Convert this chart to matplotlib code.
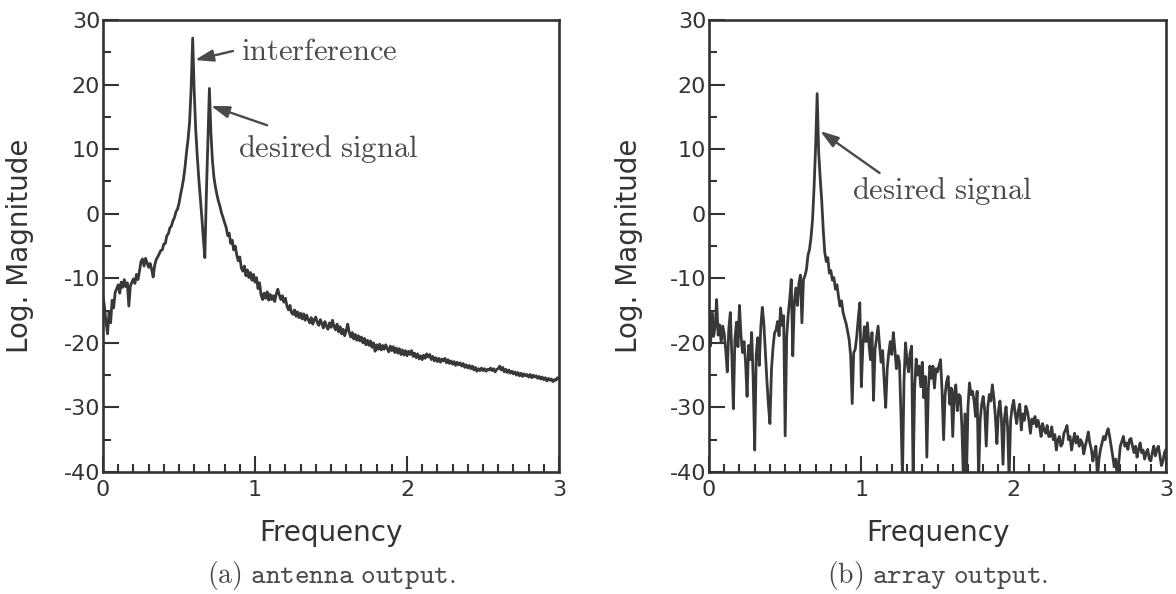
"""
안테나 출력 / 배열 출력 스펙트럼 비교 그림
"""
import matplotlib
matplotlib.use("Agg")
import matplotlib.pyplot as plt
from matplotlib.ticker import MultipleLocator
import numpy as np

plt.rcParams["font.family"] = ["DejaVu Sans"]
plt.rcParams["mathtext.fontset"] = "cm"
plt.rcParams["axes.unicode_minus"] = False

# ─────────── 데이터 ───────────

freq = np.linspace(0.0, 3.0, 301)

# (a) antenna output, dB
antenna_db = [
    -12.7, -14.5, -16.8, -18.6, -15.2, -16.9, -13.4, -14.6, -12.2, -11.6,
    -11.0, -12.3, -10.6, -11.4, -10.2, -11.3, -10.7, -14.3, -11.2, -10.6,
    -10.1, -10.8, -9.4, -10.2, -8.9, -7.4, -7.0, -8.1, -6.9, -7.6,
    -8.3, -7.7, -8.6, -9.8, -8.0, -7.1, -6.7, -6.2, -5.7, -5.6,
    -4.7, -4.6, -3.4, -3.1, -2.2, -1.9, -1.1, -0.6, 0.3, 0.7,
    1.6, 2.9, 4.1, 5.4, 7.3, 9.6, 11.6, 14.3, 19.6, 27.2,
    19.0, 13.0, 9.0, 5.5, 2.5, -0.5, -3.8, -6.8, 3.0, 11.0,
    19.4, 12.5, 8.2, 5.6, 4.1, 2.9, 1.9, 1.1, 0.1, -0.6,
    -1.4, -2.1, -3.4, -3.0, -4.6, -4.1, -5.6, -5.0, -6.4, -7.3,
    -6.7, -8.4, -8.9, -8.1, -9.6, -8.7, -9.9, -9.1, -10.3, -9.4,
    -10.6, -9.9, -11.6, -10.7, -12.6, -13.3, -12.3, -13.1, -12.1, -13.4,
    -12.5, -13.3, -12.7, -13.6, -12.4, -11.7, -12.6, -13.3, -12.7, -13.7,
    -13.1, -14.3, -14.9, -14.2, -15.3, -15.6, -14.9, -15.9, -15.2, -16.1,
    -15.4, -16.3, -15.5, -16.5, -15.7, -16.4, -16.9, -16.1, -17.1, -16.4,
    -16.0, -16.9, -17.3, -16.4, -17.0, -17.7, -16.7, -17.4, -17.9, -16.9,
    -17.6, -16.5, -17.5, -18.0, -17.1, -18.3, -17.5, -18.6, -17.9, -18.9,
    -18.1, -17.1, -18.4, -19.1, -18.4, -19.4, -18.7, -19.6, -18.9, -19.7,
    -19.1, -20.0, -19.3, -20.3, -19.6, -20.4, -19.7, -20.7, -20.0, -21.3,
    -20.3, -21.0, -20.2, -21.1, -20.4, -21.0, -20.3, -20.9, -21.4, -20.5,
    -21.2, -20.6, -21.5, -20.8, -21.6, -20.9, -21.8, -21.1, -21.9, -21.2,
    -22.0, -21.3, -21.8, -21.2, -22.1, -21.6, -22.3, -21.7, -22.5, -22.0,
    -22.6, -21.9, -22.4, -21.7, -22.2, -21.8, -22.6, -22.1, -22.8, -22.3,
    -22.9, -22.4, -23.0, -22.5, -22.8, -22.4, -23.1, -22.6, -23.2, -22.8,
    -23.3, -22.9, -23.5, -23.0, -23.4, -23.1, -23.6, -23.2, -23.8, -23.4,
    -23.9, -23.5, -24.0, -23.6, -24.2, -23.8, -24.4, -24.0, -24.3, -23.9,
    -24.3, -24.0, -24.4, -24.1, -24.2, -23.9, -24.3, -24.0, -24.5, -24.1,
    -24.0, -23.6, -24.2, -23.8, -24.5, -24.1, -24.6, -24.2, -24.7, -24.4,
    -24.8, -24.5, -25.0, -24.6, -25.1, -24.7, -25.2, -24.8, -25.1, -24.9,
    -25.3, -24.9, -25.4, -25.0, -25.3, -25.1, -25.5, -25.2, -25.6, -25.3,
    -25.7, -25.4, -25.9, -25.5, -25.8, -25.6, -26.0, -25.7, -25.8, -25.4,
    -25.5,
]

# (b) array output, dB
array_db = [
    -16.0, -20.5, -15.3, -19.0, -17.5, -13.3, -18.8, -17.2, -20.0, -17.4,
    -18.6, -21.2, -24.5, -17.8, -15.3, -22.0, -30.2, -19.5, -16.8, -20.6,
    -14.2, -18.9, -21.5, -19.8, -23.0, -28.3, -20.4, -22.6, -18.4, -25.5,
    -36.6, -21.8, -19.2, -23.5, -17.6, -14.5, -17.0, -21.4, -25.8, -29.6,
    -32.5, -24.2, -20.8, -18.5, -18.0, -16.7, -18.9, -14.6, -17.3, -15.8,
    -34.4, -19.0, -15.6, -13.2, -10.2, -22.0, -13.8, -11.5, -14.2, -10.8,
    -9.5, -16.9, -10.2, -9.6, -8.6, -6.4, -5.5, -3.6, -0.8, 4.2,
    10.5, 18.6, 9.5, 5.5, 2.0, -2.5, -6.0, -7.4, -6.8, -9.2,
    -8.8, -10.3, -9.9, -11.7, -11.0, -12.8, -14.3, -13.5, -15.3, -16.2,
    -17.0, -18.2, -19.5, -22.0, -29.4, -21.5, -21.0, -19.0, -16.2, -13.8,
    -26.8, -20.5, -17.5, -19.8, -16.9, -20.2, -22.6, -18.4, -28.9, -21.0,
    -19.2, -17.4, -20.5, -23.0, -21.2, -26.0, -30.0, -24.0, -21.5, -19.8,
    -21.8, -18.4, -21.0, -24.0, -22.0, -23.0, -31.0, -41.0, -26.0, -20.0,
    -22.8, -24.5, -21.6, -20.5, -41.0, -27.0, -22.5, -25.0, -23.6, -26.8,
    -23.0, -28.5, -25.2, -37.7, -27.0, -23.6, -25.5, -23.6, -27.0, -24.0,
    -24.5, -23.5, -22.6, -27.5, -35.0, -28.0, -26.0, -25.2, -29.5, -27.0,
    -34.5, -27.8, -26.5, -30.5, -28.0, -28.3, -33.0, -41.0, -31.0, -41.0,
    -30.0, -26.2, -28.0, -27.5, -29.0, -31.4, -27.5, -41.0, -32.0, -29.5,
    -28.3, -30.5, -36.0, -30.0, -28.0, -29.0, -26.5, -28.5, -31.5, -35.6,
    -30.5, -29.0, -32.0, -38.8, -31.5, -29.9, -33.0, -41.0, -32.0, -30.0,
    -28.9, -31.0, -32.5, -30.5, -29.5, -33.5, -31.0, -32.0, -29.8, -30.6,
    -32.0, -34.0, -31.8, -32.5, -31.4, -33.0, -32.0, -33.0, -34.5, -32.5,
    -33.5, -34.0, -32.8, -34.5, -34.5, -33.0, -35.0, -34.2, -36.6, -35.0,
    -34.5, -36.0, -35.6, -34.0, -33.5, -32.8, -35.0, -34.5, -36.6, -35.2,
    -34.0, -35.5, -34.5, -36.0, -35.0, -35.5, -37.2, -36.0, -35.0, -33.8,
    -35.5, -36.5, -38.3, -37.0, -36.0, -41.0, -38.0, -36.5, -35.5, -34.5,
    -35.0, -34.0, -33.3, -34.5, -36.0, -37.5, -39.2, -38.0, -41.0, -38.5,
    -36.0, -35.3, -34.5, -36.0, -35.5, -36.5, -35.0, -34.8, -36.0, -37.0,
    -36.0, -37.7, -36.5, -35.5, -37.0, -36.6, -38.0, -37.0, -36.5, -38.0,
    -38.3, -37.0, -36.0, -37.5, -36.5, -36.0, -37.5, -39.0, -38.3, -37.0,
    -36.5,
]

x_ticks = [0, 1, 2, 3]
y_ticks = [-40, -30, -20, -10, 0, 10, 20, 30]

# 주석: (문구, 글자 위치, 화살표 꼬리, 화살표 머리)
notes_a = [
    (r"$\mathrm{interference}$", (0.91, 23.8), (0.855, 25.2), (0.605, 23.8)),
    (r"$\mathrm{desired\ signal}$", (0.89, 8.8), (1.08, 13.7), (0.71, 16.7)),
]
notes_b = [
    (r"$\mathrm{desired\ signal}$", (0.94, 2.3), (1.12, 6.3), (0.73, 12.8)),
]

LINE = "#383838"
INK = "#333333"
NOTE = "#4a4a4a"

W, H = 1176, 594
fig = plt.figure(figsize=(W / 100, H / 100), dpi=100)
fig.patch.set_facecolor("white")

ax_a = fig.add_axes([103 / W, 1 - 472 / H, 456 / W, 452 / H])
ax_b = fig.add_axes([709 / W, 1 - 472 / H, 457 / W, 452 / H])


def style_axes(ax, label_x):
    ax.set_xlim(0, 3)
    ax.set_ylim(-40, 30)
    ax.set_xticks(x_ticks)
    ax.set_yticks(y_ticks)
    ax.xaxis.set_minor_locator(MultipleLocator(0.1))
    ax.yaxis.set_minor_locator(MultipleLocator(5))
    ax.tick_params(which="both", direction="in", color=INK, width=1.5,
                   top=False, right=False, labelcolor=INK, labelsize=16)
    ax.tick_params(which="major", length=11.5)
    ax.tick_params(which="minor", length=5.5)
    ax.tick_params(axis="y", pad=2)
    ax.tick_params(axis="x", pad=6)
    for sp in ax.spines.values():
        sp.set_color(INK)
        sp.set_linewidth(1.9)
    ax.set_xlabel("Frequency", fontsize=20, color=INK)
    ax.set_ylabel("Log. Magnitude", fontsize=20, color=INK)
    ax.xaxis.set_label_coords(0.5, -0.105)
    ax.yaxis.set_label_coords(label_x, 0.5)


def add_notes(ax, notes):
    for text, pos, tail, head in notes:
        ax.text(pos[0], pos[1], text, fontsize=22, color=NOTE,
                ha="left", va="baseline")
        ax.annotate("", xy=head, xytext=tail,
                    arrowprops=dict(arrowstyle="-|>,head_length=0.55,head_width=0.18",
                                    mutation_scale=20, color=NOTE, lw=1.7,
                                    shrinkA=0, shrinkB=0))


# (a) antenna output
ax_a.plot(freq, antenna_db, color=LINE, linewidth=2.0)
style_axes(ax_a, -0.151)
add_notes(ax_a, notes_a)
ax_a.text(0.5, -0.228, r"$\mathrm{(a)}\ \mathtt{antenna\ output.}$",
          transform=ax_a.transAxes, fontsize=20, color=NOTE,
          ha="center", va="center")

# (b) array output
ax_b.plot(freq, array_db, color=LINE, linewidth=2.0)
style_axes(ax_b, -0.144)
add_notes(ax_b, notes_b)
ax_b.text(0.5, -0.228, r"$\mathrm{(b)}\ \mathtt{array\ output.}$",
          transform=ax_b.transAxes, fontsize=20, color=NOTE,
          ha="center", va="center")

fig.savefig("out.png", dpi=100)
plt.close(fig)
